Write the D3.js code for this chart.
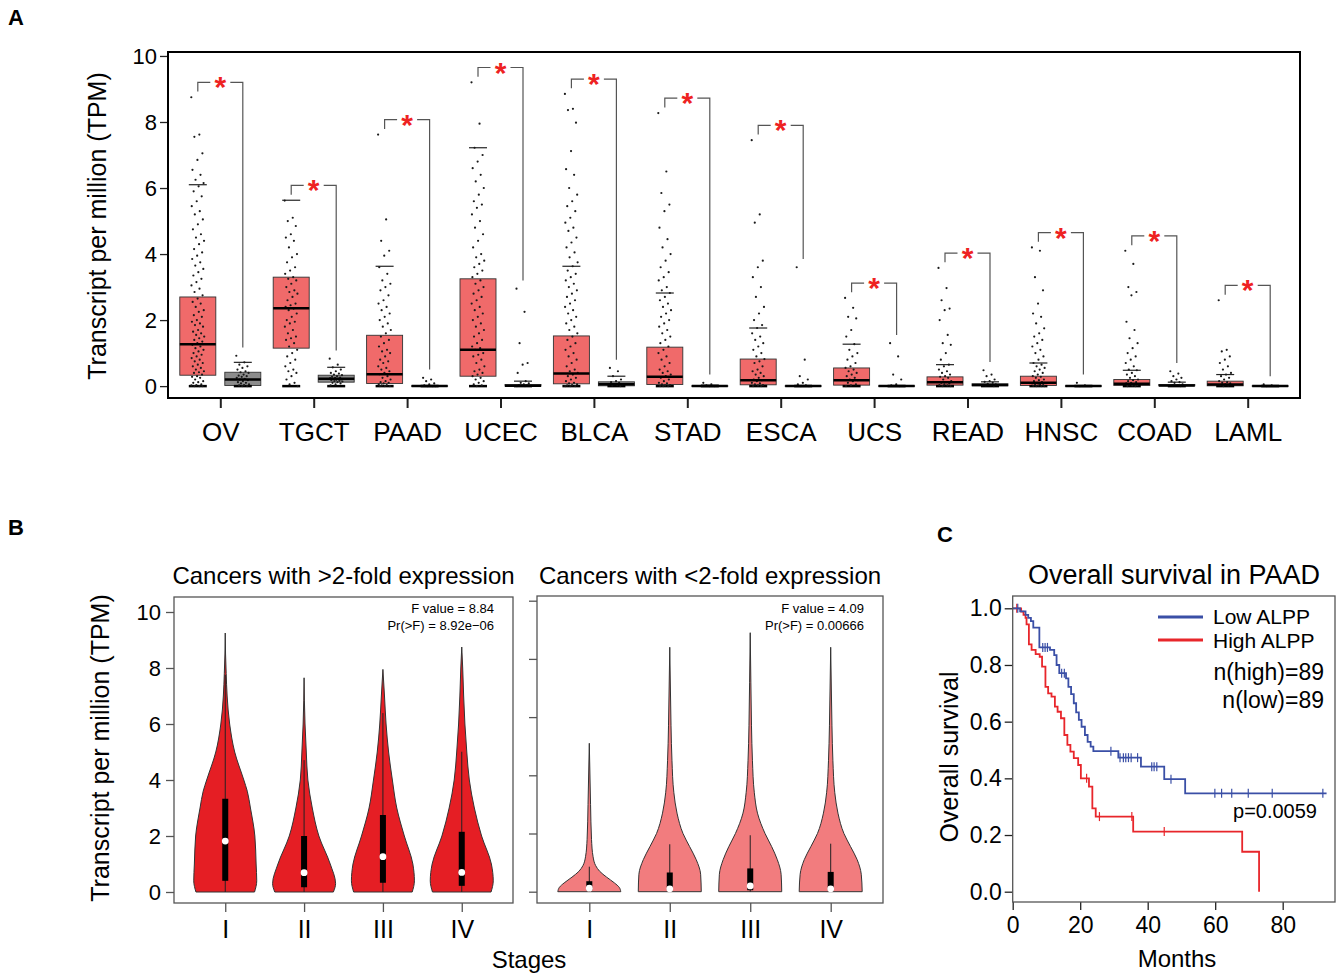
<!DOCTYPE html>
<html>
<head>
<meta charset="utf-8">
<script src="https://cdn.jsdelivr.net/npm/d3@7"></script>
<style>
  body { margin: 0; background: #fff; }
  svg text { font-family: "Liberation Sans", Arial, Helvetica, sans-serif; }
</style>
</head>
<body>
<div id="fig"></div>
<script>
// ---- panel A: expression per cancer type (tumor vs normal) ----
const cancers = ["OV", "TGCT", "PAAD", "UCEC", "BLCA", "STAD", "ESCA", "UCS", "READ", "HNSC", "COAD", "LAML"];
const aTicks = [0, 2, 4, 6, 8, 10];

// [lower whisker, q1, median, q3, upper whisker]
const tumorStats = [
  [0, 0.33, 1.27, 2.7, 6.1], [0, 1.15, 2.36, 3.3, 5.63], [0, 0.08, 0.36, 1.54, 3.63],
  [0, 0.3, 1.1, 3.25, 7.22], [0, 0.07, 0.38, 1.52, 3.63], [0, 0.05, 0.28, 1.18, 2.82],
  [0, 0.04, 0.18, 0.82, 1.76], [0, 0.03, 0.18, 0.55, 1.27], [0, 0.03, 0.12, 0.28, 0.65],
  [0, 0.02, 0.1, 0.3, 0.7], [0, 0.02, 0.07, 0.2, 0.48], [0, 0.01, 0.05, 0.15, 0.35]
];
const normalStats = [
  [0, 0.02, 0.2, 0.42, 0.72], [0, 0.12, 0.22, 0.33, 0.57], [0, 0, 0, 0.01, 0.02],
  [0, 0, 0.01, 0.05, 0.15], [0, 0.01, 0.06, 0.13, 0.3], [0, 0, 0, 0.01, 0.03],
  [0, 0, 0, 0.01, 0.02], [0, 0, 0, 0.01, 0.02], [0, 0.01, 0.03, 0.07, 0.13],
  [0, 0, 0, 0.01, 0.02], [0, 0.01, 0.02, 0.05, 0.12], [0, 0, 0, 0.01, 0.02]
];

const tumorPoints = [
  [8.75,7.62,7.55,7.05,6.85,6.55,6.4,6.25,6.15,6.05,5.9,5.75,5.6,5.45,5.3,5.2,5.05,4.9,4.75,4.6,4.5,4.4,4.3,4.15,4.05,3.95,3.85,3.75,3.65,3.55,3.45,3.35,3.25,3.15,3.05,2.95,2.85,2.75,2.65,2.55,2.5,2.4,2.3,2.25,2.15,2.1,2.0,1.95,1.9,1.85,1.8,1.7,1.65,1.6,1.55,1.5,1.45,1.4,1.35,1.3,1.25,1.2,1.15,1.1,1.05,1.0,0.95,0.9,0.85,0.8,0.75,0.7,0.65,0.6,0.55,0.5,0.45,0.42,0.4,0.35,0.3,0.28,0.25,0.2,0.15,0.12,0.1,0.05,0.03,0.02,0,0,0],
  [5.62,5.1,5.0,4.85,4.6,4.5,4.4,4.2,4.0,3.9,3.75,3.6,3.5,3.4,3.3,3.25,3.2,3.1,3.0,2.9,2.85,2.8,2.7,2.6,2.5,2.45,2.4,2.35,2.3,2.2,2.1,2.0,1.95,1.9,1.8,1.7,1.6,1.5,1.45,1.4,1.3,1.2,1.1,1.0,0.9,0.8,0.7,0.6,0.5,0.45,0.4,0.3,0.2,0.1,0.05,0],
  [7.62,5.05,4.4,4.1,3.95,3.6,3.4,3.2,3.1,3.0,2.9,2.75,2.6,2.5,2.4,2.3,2.2,2.1,2.0,1.9,1.8,1.7,1.6,1.5,1.4,1.3,1.2,1.1,1.05,1.0,0.9,0.8,0.75,0.7,0.6,0.55,0.5,0.45,0.4,0.36,0.3,0.25,0.2,0.15,0.12,0.1,0.08,0.05,0.03,0.02,0,0,0],
  [9.2,7.95,7.22,7.0,6.8,6.6,6.4,6.2,6.0,5.8,5.6,5.5,5.4,5.2,5.0,4.8,4.6,4.4,4.2,4.0,3.9,3.8,3.7,3.6,3.5,3.4,3.3,3.2,3.1,3.0,2.9,2.8,2.7,2.6,2.5,2.4,2.3,2.2,2.1,2.0,1.9,1.8,1.7,1.6,1.5,1.4,1.3,1.2,1.15,1.1,1.0,0.95,0.9,0.8,0.7,0.6,0.5,0.45,0.4,0.35,0.3,0.25,0.2,0.15,0.1,0.05,0.02,0],
  [8.85,8.4,8.36,7.98,7.12,6.57,6.4,6.0,5.8,5.6,5.45,5.3,5.1,4.95,4.8,4.7,4.5,4.35,4.2,4.05,3.9,3.75,3.63,3.5,3.4,3.3,3.2,3.1,3.0,2.9,2.8,2.7,2.6,2.5,2.4,2.3,2.2,2.1,2.0,1.9,1.8,1.7,1.6,1.5,1.4,1.3,1.2,1.1,1.0,0.9,0.8,0.7,0.6,0.5,0.45,0.4,0.35,0.3,0.25,0.2,0.15,0.1,0.08,0.05,0.03,0.02,0,0,0],
  [8.27,6.5,5.85,5.5,5.3,4.8,4.45,4.2,4.0,3.8,3.6,3.45,3.3,3.2,3.0,2.9,2.82,2.7,2.6,2.5,2.4,2.3,2.2,2.1,2.0,1.9,1.8,1.7,1.6,1.5,1.4,1.3,1.2,1.1,1.0,0.9,0.8,0.7,0.6,0.5,0.45,0.4,0.35,0.3,0.25,0.2,0.15,0.1,0.08,0.05,0.03,0.02,0,0,0],
  [7.45,5.2,4.95,3.8,3.6,3.3,3.0,2.7,2.4,2.2,2.0,1.85,1.76,1.6,1.5,1.4,1.3,1.2,1.1,1.0,0.9,0.82,0.75,0.7,0.6,0.5,0.45,0.4,0.35,0.3,0.25,0.2,0.18,0.15,0.1,0.08,0.05,0.03,0.02,0,0],
  [2.67,2.37,2.1,2.05,1.7,1.5,1.27,1.1,1.0,0.9,0.8,0.7,0.6,0.55,0.5,0.45,0.4,0.35,0.3,0.25,0.2,0.18,0.15,0.1,0.05,0.02,0],
  [3.58,2.97,2.6,2.35,2.3,2.0,1.55,1.3,1.25,1.0,0.8,0.65,0.6,0.5,0.45,0.4,0.35,0.3,0.28,0.25,0.2,0.15,0.12,0.1,0.08,0.05,0.03,0.02,0,0],
  [4.2,4.1,3.3,2.9,2.5,2.2,2.1,1.9,1.75,1.6,1.5,1.4,1.3,1.2,1.1,1.0,0.9,0.8,0.7,0.65,0.6,0.55,0.5,0.45,0.4,0.35,0.3,0.28,0.25,0.2,0.18,0.15,0.12,0.1,0.08,0.06,0.05,0.03,0.02,0.01,0,0,0],
  [4.1,3.7,3.0,2.85,2.75,1.95,1.7,1.45,1.3,1.15,1.0,0.9,0.8,0.7,0.6,0.5,0.48,0.4,0.35,0.3,0.25,0.2,0.18,0.15,0.12,0.1,0.08,0.07,0.05,0.03,0.02,0,0],
  [2.6,1.1,1.05,0.9,0.8,0.7,0.6,0.5,0.4,0.35,0.3,0.25,0.2,0.15,0.12,0.1,0.08,0.05,0.03,0.02,0]
];
const normalPoints = [
  [0.92,0.72,0.65,0.6,0.55,0.5,0.45,0.42,0.4,0.35,0.32,0.3,0.28,0.25,0.22,0.2,0.18,0.15,0.12,0.1,0.08,0.05,0.03,0.02,0,0],
  [0.83,0.65,0.57,0.5,0.45,0.4,0.38,0.35,0.33,0.3,0.28,0.26,0.25,0.24,0.22,0.21,0.2,0.19,0.18,0.16,0.15,0.14,0.12,0.1,0.08,0.05,0.02],
  [0.25,0.2,0.15,0.08,0.05,0.02,0,0,0],
  [2.95,2.25,1.3,0.7,0.65,0.4,0.15,0.1,0.08,0.05,0.03,0.02,0.01,0,0],
  [0.55,0.45,0.3,0.2,0.15,0.12,0.1,0.06,0.05,0.03,0.02,0],
  [0.1,0.05,0.02,0,0],
  [3.6,0.8,0.3,0.2,0.1,0.05,0.02,0,0],
  [1.3,0.9,0.35,0.2,0.05,0.02,0],
  [0.48,0.35,0.3,0.2,0.15,0.13,0.1,0.07,0.05,0.03,0.02,0],
  [0.1,0.02,0],
  [0.45,0.38,0.3,0.25,0.2,0.15,0.12,0.1,0.05,0.03,0.02,0],
  [0.05,0.02,0]
];

// ---- panel B: expression by stage ----
const stages = ["I", "II", "III", "IV"];
// violin outlines: [value, relative density]
const highProfiles = [
  [[0,0.93],[0.4,1.0],[1,0.98],[2,0.94],[3,0.8],[3.6,0.7],[4,0.59],[5,0.3],[6,0.14],[7,0.06],[7.8,0.03],[8.5,0.01],[9.25,0]],
  [[0,0.93],[0.3,1.0],[1,0.83],[2,0.47],[3,0.26],[4,0.12],[5,0.07],[6,0.03],[7.65,0]],
  [[0,0.93],[0.4,1.0],[1,0.95],[2,0.68],[3,0.44],[4,0.3],[5,0.18],[6,0.1],[7,0.05],[7.95,0]],
  [[0,0.93],[0.4,1.0],[1,0.94],[2,0.63],[3,0.4],[4,0.24],[5,0.16],[6,0.1],[7,0.06],[8,0.03],[8.75,0]]
];
const lowProfiles = [
  [[0,1.0],[0.15,0.95],[0.3,0.8],[0.5,0.55],[0.7,0.33],[0.9,0.2],[1.2,0.12],[1.8,0.07],[3,0.04],[5.1,0]],
  [[0,1.0],[0.6,0.98],[1.1,0.84],[1.55,0.63],[2,0.42],[2.7,0.23],[3.4,0.13],[4.5,0.07],[5.7,0.04],[7,0.02],[8.4,0]],
  [[0,1.0],[0.6,0.98],[1.1,0.86],[1.55,0.68],[2,0.47],[2.7,0.23],[3.4,0.13],[4.5,0.07],[5.7,0.04],[7.2,0.02],[8.9,0]],
  [[0,1.0],[0.6,0.97],[1.1,0.84],[1.55,0.63],[2,0.42],[2.7,0.23],[3.4,0.13],[4.5,0.07],[5.7,0.04],[7,0.02],[8.4,0]]
];
// [lower whisker, q1, median, q3, upper whisker]
const highBoxes = [[0, 0.4, 1.82, 3.33, 7.75], [0, 0.17, 0.69, 2.0, 4.71], [0, 0.33, 1.26, 2.75, 6.39], [0, 0.22, 0.7, 2.15, 5.01]];
const lowBoxes = [[0, 0.05, 0.12, 0.36, 0.86], [0, 0.05, 0.1, 0.66, 1.63], [0, 0.05, 0.2, 0.8, 1.94], [0, 0.05, 0.1, 0.68, 1.65]];
const bTicks = [0, 2, 4, 6, 8, 10];

// ---- panel C: Kaplan-Meier ----
const lowTime = [0, 2.2, 3.8, 4.6, 5.4, 6.1, 7.9, 11.05, 12.3, 13.0, 13.8, 15.8, 16.5, 17.3, 18.1, 18.8, 19.6, 20.4, 21.4, 22.2, 23.1, 23.9, 31.3, 38.0, 44.9, 51.1, 93.0];
const lowSurv = [1.0, 0.989, 0.977, 0.966, 0.955, 0.932, 0.862, 0.853, 0.835, 0.800, 0.771, 0.753, 0.723, 0.697, 0.665, 0.633, 0.606, 0.582, 0.553, 0.529, 0.512, 0.496, 0.473, 0.441, 0.397, 0.347, 0.347];
const lowCensor = [1.5, 8.9, 9.6, 10.3, 14.5, 15.3, 29.1, 31.8, 32.8, 33.5, 34.3, 35.1, 37.0, 41.2, 41.9, 42.7, 46.9, 59.9, 61.9, 64.9, 69.8, 76.9, 91.9];
const highTime = [0, 2.5, 3.2, 3.8, 4.1, 4.8, 5.6, 6.8, 8.0, 8.7, 9.7, 10.5, 11.5, 12.5, 13.3, 14.3, 15.3, 16.2, 17.1, 18.1, 19.4, 20.2, 22.6, 23.6, 24.6, 35.7, 68.0, 73.0];
const highSurv = [1.0, 0.988, 0.977, 0.966, 0.943, 0.873, 0.853, 0.838, 0.829, 0.794, 0.723, 0.700, 0.688, 0.653, 0.635, 0.612, 0.553, 0.518, 0.494, 0.471, 0.447, 0.400, 0.371, 0.294, 0.265, 0.212, 0.141, 0.0];
const highCensor = [1.2, 21.9, 25.7, 35.3, 44.9];
const monthTicks = [0, 20, 40, 60, 80];
const survTicks = [0, 0.2, 0.4, 0.6, 0.8, 1.0];

const svg = d3.select("#fig").append("svg")
    .attr("width", 1337)
    .attr("height", 975);

function styleAxis(ax, size) {
    ax.select(".domain").remove();
    ax.selectAll("line").attr("stroke", "#222").attr("stroke-width", 1.3);
    ax.selectAll("text").attr("fill", "#000").style("font-size", size + "px");
}

function panelLabel(t, x, y) {
    svg.append("text").attr("x", x).attr("y", y).text(t)
        .style("font-size", "22px").style("font-weight", "bold");
}

// ================= A =================
function drawPanelA() {
    const g = svg.append("g");
    const x = d3.scalePoint().domain(cancers).range([168, 1300]).padding(0.56);
    const y = d3.scaleLinear().domain([-0.36, 10.12]).range([398, 52]);
    const boxW = 36, off = 22.5, jit = 13;

    const ya = g.append("g").attr("transform", "translate(168,0)")
        .call(d3.axisLeft(y).tickValues(aTicks).tickSize(8).tickPadding(3).tickFormat(d3.format("d")));
    styleAxis(ya, 22);
    const xa = g.append("g").attr("transform", "translate(0,398)")
        .call(d3.axisBottom(x).tickSize(10).tickPadding(15));
    styleAxis(xa, 26);
    xa.selectAll("line").attr("stroke-width", 2);

    g.append("text")
        .attr("transform", "translate(97,226) rotate(-90)")
        .attr("text-anchor", "middle").attr("dy", "0.35em")
        .style("font-size", "25px")
        .text("Transcript per million (TPM)");

    function drawBox(cx, st, pts, fill) {
        g.append("rect")
            .attr("x", cx - boxW / 2).attr("width", boxW)
            .attr("y", y(st[3])).attr("height", Math.max(0.5, y(st[1]) - y(st[3])))
            .attr("fill", fill).attr("stroke", "#333").attr("stroke-width", 0.9);
        g.append("line")
            .attr("x1", cx - 9).attr("x2", cx + 9)
            .attr("y1", y(st[4])).attr("y2", y(st[4]))
            .attr("stroke", "#222").attr("stroke-width", 1.2);
        g.append("line")
            .attr("x1", cx - 9).attr("x2", cx + 9)
            .attr("y1", y(st[0])).attr("y2", y(st[0]))
            .attr("stroke", "#000").attr("stroke-width", 2.5);
        g.append("g").selectAll("circle")
            .data(pts).join("circle")
            .attr("cx", (d, i) => cx + (((i * 0.618034) % 1) - 0.5) * jit)
            .attr("cy", d => y(d))
            .attr("r", 1.1)
            .attr("fill", "#1a1a1a");
        g.append("line")
            .attr("x1", cx - boxW / 2).attr("x2", cx + boxW / 2)
            .attr("y1", y(st[2])).attr("y2", y(st[2]))
            .attr("stroke", "#000").attr("stroke-width", 2.5);
    }

    cancers.forEach(function (c, i) {
        const cx = x(c);
        drawBox(cx - off, tumorStats[i], tumorPoints[i], "#f06a6a");
        drawBox(cx + off, normalStats[i], normalPoints[i], "#8c8c8c");

        // significance bracket
        const tMax = d3.max(tumorPoints[i].concat([tumorStats[i][4]]));
        const nMax = d3.max(normalPoints[i].concat([normalStats[i][4]]));
        const top = tMax + 0.45;
        const yt = y(top);
        g.append("path")
            .attr("d", "M" + (cx - off) + "," + y(top - 0.28) + "V" + yt + "H" + (cx - 10)
                + "M" + (cx + 10) + "," + yt + "H" + (cx + off) + "V" + y(nMax + 0.25))
            .attr("fill", "none").attr("stroke", "#555").attr("stroke-width", 1.2);
        g.append("text")
            .attr("x", cx).attr("y", yt + 15)
            .attr("text-anchor", "middle")
            .style("font-size", "30px").style("font-weight", "bold")
            .attr("fill", "#ee2222")
            .text("*");
    });

    g.append("rect")
        .attr("x", 168).attr("y", 52).attr("width", 1132).attr("height", 346)
        .attr("fill", "none").attr("stroke", "#000").attr("stroke-width", 2);
}

// ================= B =================
function drawViolinPanel(opt) {
    const g = svg.append("g");
    const x = d3.scalePoint().domain(stages).range([opt.left, opt.right]).padding(0.65);
    const y = d3.scaleLinear().domain([0, 10]).range([opt.y0, opt.y10]);
    const w = d3.scaleLinear().domain([0, 1]).range([0, 31.5]);

    const ya = g.append("g").attr("transform", "translate(" + opt.left + ",0)")
        .call(d3.axisLeft(y).tickValues(bTicks).tickSize(8).tickPadding(5).tickFormat(d3.format("d")));
    styleAxis(ya, 22);
    ya.selectAll("line").attr("stroke", "#555");
    if (!opt.labels) ya.selectAll("text").remove();

    const xa = g.append("g").attr("transform", "translate(0," + opt.bottom + ")")
        .call(d3.axisBottom(x).tickSize(9).tickPadding(8));
    styleAxis(xa, 25);
    xa.selectAll("line").attr("stroke", "#555");

    stages.forEach(function (s, i) {
        const cx = x(s);
        const area = d3.area()
            .y(d => y(d[0]))
            .x0(d => cx - w(d[1]))
            .x1(d => cx + w(d[1]))
            .curve(d3.curveMonotoneY);
        g.append("path")
            .attr("d", area(opt.profiles[i]))
            .attr("fill", opt.fill).attr("stroke", "#333").attr("stroke-width", 1);
        const b = opt.boxes[i];
        g.append("line")
            .attr("x1", cx).attr("x2", cx).attr("y1", y(b[0])).attr("y2", y(b[4]))
            .attr("stroke", "#222").attr("stroke-width", 1);
        g.append("rect")
            .attr("x", cx - 3).attr("width", 6)
            .attr("y", y(b[3])).attr("height", y(b[1]) - y(b[3]))
            .attr("fill", "#000");
        g.append("circle")
            .attr("cx", cx).attr("cy", y(b[2])).attr("r", 3.4)
            .attr("fill", "#fff");
    });

    g.append("rect")
        .attr("x", opt.left).attr("y", opt.top)
        .attr("width", opt.right - opt.left).attr("height", opt.bottom - opt.top)
        .attr("fill", "none").attr("stroke", "#555").attr("stroke-width", 1.3);

    g.append("text")
        .attr("x", (opt.left + opt.right) / 2).attr("y", 584)
        .attr("text-anchor", "middle").style("font-size", "24px")
        .text(opt.title);
    g.append("text")
        .attr("x", opt.right - 19).attr("y", 613)
        .attr("text-anchor", "end").style("font-size", "13px")
        .text(opt.fValue);
    g.append("text")
        .attr("x", opt.right - 19).attr("y", 630)
        .attr("text-anchor", "end").style("font-size", "13px")
        .text(opt.pValue);
}

function drawPanelB() {
    drawViolinPanel({
        left: 174, right: 513, top: 597, bottom: 903, y0: 892, y10: 612,
        profiles: highProfiles, boxes: highBoxes, fill: "#e51e24", labels: true,
        title: "Cancers with >2-fold expression",
        fValue: "F value = 8.84", pValue: "Pr(>F) = 8.92e\u221206"
    });
    drawViolinPanel({
        left: 537, right: 883, top: 596, bottom: 903, y0: 891.7, y10: 600.7,
        profiles: lowProfiles, boxes: lowBoxes, fill: "#f27c7e", labels: false,
        title: "Cancers with <2-fold expression",
        fValue: "F value = 4.09", pValue: "Pr(>F) = 0.00666"
    });
    svg.append("text")
        .attr("transform", "translate(100,748) rotate(-90)")
        .attr("text-anchor", "middle").attr("dy", "0.35em")
        .style("font-size", "25px")
        .text("Transcript per million (TPM)");
    svg.append("text")
        .attr("x", 529).attr("y", 968)
        .attr("text-anchor", "middle").style("font-size", "24px")
        .text("Stages");
}

// ================= C =================
function drawPanelC() {
    const g = svg.append("g");
    const x = d3.scaleLinear().domain([0, 95.5]).range([1012.7, 1335]);
    const y = d3.scaleLinear().domain([0, 1]).range([891.7, 608.3]);

    const ya = g.append("g").attr("transform", "translate(1012.7,0)")
        .call(d3.axisLeft(y).tickValues(survTicks).tickSize(8).tickPadding(3).tickFormat(d3.format(".1f")));
    styleAxis(ya, 23);
    const xa = g.append("g").attr("transform", "translate(0,902)")
        .call(d3.axisBottom(x).tickValues(monthTicks).tickSize(8).tickPadding(7));
    styleAxis(xa, 23);

    const line = d3.line().x(d => x(d[0])).y(d => y(d[1])).curve(d3.curveStepAfter);

    function curve(times, surv, censor, color) {
        const pts = times.map((t, i) => [t, surv[i]]);
        g.append("path").attr("d", line(pts))
            .attr("fill", "none").attr("stroke", color).attr("stroke-width", 1.8);
        const at = t => surv[d3.bisectRight(times, t) - 1];
        g.append("g").selectAll("line")
            .data(censor).join("line")
            .attr("x1", d => x(d)).attr("x2", d => x(d))
            .attr("y1", d => y(at(d)) - 4.5).attr("y2", d => y(at(d)) + 4.5)
            .attr("stroke", color).attr("stroke-width", 1.2);
    }
    curve(highTime, highSurv, highCensor, "#e8262b");
    curve(lowTime, lowSurv, lowCensor, "#3a4fa6");

    g.append("rect")
        .attr("x", 1012.7).attr("y", 596).attr("width", 322.3).attr("height", 306)
        .attr("fill", "none").attr("stroke", "#555").attr("stroke-width", 1.3);

    // legend
    const leg = [["Low ALPP", "#3a4fa6", 617, 624], ["High ALPP", "#e8262b", 640, 648]];
    leg.forEach(function (l) {
        g.append("line").attr("x1", 1158).attr("x2", 1203).attr("y1", l[2]).attr("y2", l[2])
            .attr("stroke", l[1]).attr("stroke-width", 3);
        g.append("text").attr("x", 1213).attr("y", l[3]).style("font-size", "21px").text(l[0]);
    });
    g.append("text").attr("x", 1324).attr("y", 680).attr("text-anchor", "end")
        .style("font-size", "23px").text("n(high)=89");
    g.append("text").attr("x", 1324).attr("y", 708).attr("text-anchor", "end")
        .style("font-size", "23px").text("n(low)=89");
    g.append("text").attr("x", 1317).attr("y", 818).attr("text-anchor", "end")
        .style("font-size", "20px").text("p=0.0059");

    g.append("text")
        .attr("x", 1174).attr("y", 584).attr("text-anchor", "middle")
        .style("font-size", "27px").text("Overall survival in PAAD");
    g.append("text")
        .attr("transform", "translate(949,757) rotate(-90)")
        .attr("text-anchor", "middle").attr("dy", "0.35em")
        .style("font-size", "25px").text("Overall survival");
    g.append("text")
        .attr("x", 1177).attr("y", 967).attr("text-anchor", "middle")
        .style("font-size", "24px").text("Months");
}

drawPanelA();
drawPanelB();
drawPanelC();
panelLabel("A", 8, 25);
panelLabel("B", 8, 535);
panelLabel("C", 937, 542);
</script>
</body>
</html>
